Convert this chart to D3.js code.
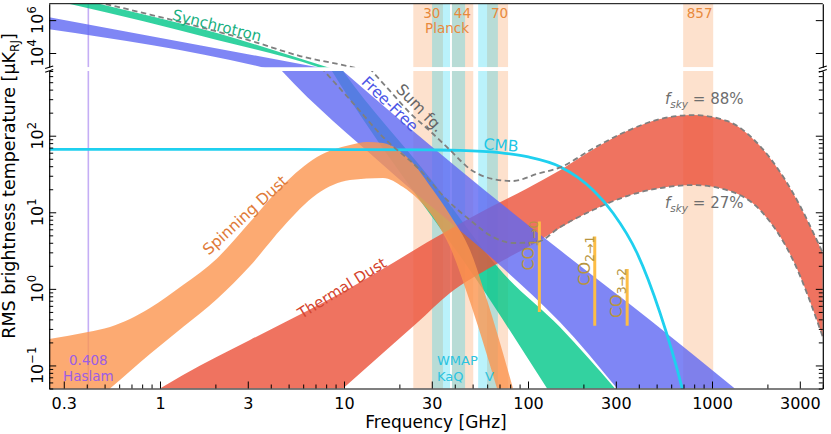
<!DOCTYPE html>
<html>
<head>
<meta charset="utf-8">
<script src="https://cdn.jsdelivr.net/npm/d3@7"></script>
<style>
  body { margin: 0; background: #fff; }
  svg { display: block; font-family: "DejaVu Sans", sans-serif; }
</style>
</head>
<body>
<svg width="831" height="434"></svg>
<script>
// all values: frequency [GHz], RMS brightness temperature [uK_RJ]
const synchrotronHi = [[0.25, 5.5e7], [0.472, 9.5e6], [2.041, 1.64e5], [8.08, 1400], [9.88, 700], [29.3, 28.1],
    [73.1, 1.61], [149, 0.318], [297, 0.05]];
const synchrotronLo = [[0.25, 1.8e7], [0.324, 9.5e6], [2.041, 6.2e4], [7.22, 1400], [8.6, 700], [62.2, 0.716], [127, 0.05]];
const freeFreeHi = [[0.25, 1.48e6], [6.96, 1460], [9.88, 700], [42.7, 35.7], [149, 3.21], [460, 0.392], [1330, 0.05]];
const freeFreeLo = [[0.25, 2.75e5], [3.5, 1460], [4.6, 700], [16.3, 41.4], [73.1, 1.87], [149, 0.369], [305, 0.05]];
const spinningHi = [[0.25, 0.221], [0.406, 0.273], [0.535, 0.318], [0.687, 0.404], [0.882, 0.562], [1.334, 1.12], [2.041, 2.5],
    [3.084, 7.47], [4.661, 22.7], [7.134, 52.7], [10.78, 75.7], [13.34, 82.9], [16.29, 80.4], [22.85, 48.2], [30.46, 19.5],
    [37.68, 9.21], [48.39, 3.21], [59.89, 0.714], [82.9, 0.05]];
const spinningLo = [[0.25, 0.013], [0.535, 0.05], [0.882, 0.141], [1.334, 0.318], [2.041, 0.738], [3.084, 1.99], [4.661, 6.43],
    [7.134, 17.3], [10.78, 26.4], [16.29, 28.1], [20.93, 21.4], [30.46, 8.67], [37.68, 3.52], [46.61, 0.883], [67.85, 0.05]];
const thermalHi = [[1, 0.05], [1.334, 0.075], [3.084, 0.215], [10.78, 1.03], [37.68, 6.0], [62.18, 11.6], [98.76, 20.5],
    [149.3, 35.5], [225.6, 66], [345.2, 115], [521.9, 165], [788.5, 186], [1206, 156], [1824, 73.3], [2755, 17.9], [4000, 2.94]];
const thermalLo = [[9.876, 0.05], [16.29, 0.145], [24.9, 0.358], [37.68, 0.883], [64.54, 1.99], [111.9, 4.09], [149.3, 6.24],
    [225.6, 10.7], [345.2, 16.3], [521.9, 20.7], [788.5, 22.7], [1206, 19.5], [1824, 10.7], [2755, 2.38], [4000, 0.235]];
const sumHi = [[0.455, 1.26e7], [0.882, 2.19e6], [1.65, 3.8e5], [3.084, 5.74e4], [5.768, 6550], [11.05, 1400], [14.2, 700],
    [17.78, 384], [22.85, 198], [29.34, 115], [37.68, 65.0], [48.39, 36.7], [64.54, 27.2], [82.9, 25.6], [111.9, 31.7],
    [149.3, 38.5], [225.6, 68], [345.2, 115], [521.9, 165], [788.5, 186], [1206, 156], [1824, 73.3], [2755, 17.9], [4000, 2.94]];
const sumLo = [[7.5, 780], [11.19, 267], [16.29, 96.2], [25.88, 35.7], [36.29, 14.5], [48.39, 7.92], [64.54, 4.75], [82.9, 3.97],
    [111.9, 4.09], [149.3, 6.4], [225.6, 10.7], [345.2, 16.3], [521.9, 20.7], [788.5, 22.7], [1206, 19.5], [1824, 10.7],
    [2755, 2.38], [4000, 0.235]];
const cmb = [[0.25, 66.4], [3, 66.3], [10, 66.0], [30, 65.2], [42.7, 64.5], [70, 60.3], [98.8, 53.2], [149.3, 39.3],
    [225.6, 19.5], [289.7, 9.8], [391.3, 2.94], [521.9, 0.484], [687, 0.051], [750, 0.021]];

const planckBands = [[23.8, 34.5], [38.6, 50.4], [59.9, 77.9], [697, 1015]];
const planckCentres = [30, 44, 70, 857];
const wmapBands = [[30.1, 37.7], [38.6, 45.5], [53.6, 68.6]];
const haslamFreq = 0.408;

const coFreqs = [115.27, 230.54, 345.8];
const coTop = [7.6, 4.83, 1.82];
const coBottom = [0.5, 0.33, 0.33];
const coSubs = ["1\u21920", "2\u21921", "3\u21922"];

const xTicks = [0.3, 1, 3, 10, 30, 100, 300, 1000, 3000];
const yTicksBottom = [0.1, 1, 10, 100];
const yTicksTop = [1e4, 1e6];

(() => {
    let svg = d3.select("svg");
    const left = 49.2, right = 822.8;
    const topPanel = [3.7, 67.3], botPanel = [71, 388.5];

    let x = d3.scaleLog().domain([0.25, 4000]).range([left, right]);
    let yTop = d3.scaleLog().domain([1350, 1e7]).range([topPanel[1], topPanel[0]]);
    let yBot = d3.scaleLog().domain([0.05, 700]).range([botPanel[1], botPanel[0]]);

    let defs = svg.append("defs");
    defs.append("clipPath").attr("id", "clipTop").append("rect")
        .attr("x", left).attr("y", topPanel[0]).attr("width", right - left).attr("height", topPanel[1] - topPanel[0]);
    defs.append("clipPath").attr("id", "clipBot").append("rect")
        .attr("x", left).attr("y", botPanel[0]).attr("width", right - left).attr("height", botPanel[1] - botPanel[0]);

    let lineFor = y => d3.line().x(d => x(d[0])).y(d => y(d[1])).curve(d3.curveMonotoneX);
    let band = (hi, lo, y) => lineFor(y)(hi) + lineFor(y)(lo.slice().reverse()).replace(/^M/, "L") + "Z";

    const colors = {
        sync: "#00c788", dust: "#eb5038", ff: "#5f68f2", spin: "#fb954f",
        cmb: "#1fd0ef", co: "#fdbd45", sum: "#7f7f7f"
    };

    //draw one panel: shaded frequency bands, components, lines
    function panel(y, range, clip, full) {
        let g = svg.append("g").attr("clip-path", `url(#${clip})`);
        g.selectAll(".planck").data(planckBands).join("rect")
            .attr("x", d => x(d[0])).attr("width", d => x(d[1]) - x(d[0]))
            .attr("y", range[0]).attr("height", range[1] - range[0])
            .attr("fill", "#f9a86f").attr("fill-opacity", 0.35);
        g.selectAll(".wmap").data(wmapBands).join("rect")
            .attr("x", d => x(d[0])).attr("width", d => x(d[1]) - x(d[0]))
            .attr("y", range[0]).attr("height", range[1] - range[0])
            .attr("fill", "#00cff0").attr("fill-opacity", 0.27);
        g.append("line")
            .attr("x1", x(haslamFreq)).attr("x2", x(haslamFreq))
            .attr("y1", range[0]).attr("y2", range[1])
            .attr("stroke", "#c5aef5").attr("stroke-width", 1.6);

        g.append("path").attr("d", band(synchrotronHi, synchrotronLo, y)).attr("fill", colors.sync).attr("fill-opacity", 0.8);
        if (full) g.append("path").attr("d", band(thermalHi, thermalLo, y)).attr("fill", colors.dust).attr("fill-opacity", 0.8);
        g.append("path").attr("d", band(freeFreeHi, freeFreeLo, y)).attr("fill", colors.ff).attr("fill-opacity", 0.8);
        if (full) {
            g.append("path").attr("d", band(spinningHi, spinningLo, y)).attr("fill", colors.spin).attr("fill-opacity", 0.8);
            g.append("path").attr("d", lineFor(y)(cmb)).attr("fill", "none")
                .attr("stroke", colors.cmb).attr("stroke-width", 2.8);
            g.selectAll(".co").data(coFreqs).join("line")
                .attr("x1", d => x(d)).attr("x2", d => x(d))
                .attr("y1", (d, i) => y(coTop[i])).attr("y2", (d, i) => y(coBottom[i]))
                .attr("stroke", colors.co).attr("stroke-width", 3);
            g.append("path").attr("d", lineFor(y)(sumLo)).attr("fill", "none")
                .attr("stroke", colors.sum).attr("stroke-width", 1.8).attr("stroke-dasharray", "5.5,3.5");
        }
        g.append("path").attr("d", lineFor(y)(sumHi)).attr("fill", "none")
            .attr("stroke", colors.sum).attr("stroke-width", 1.8).attr("stroke-dasharray", "5.5,3.5");
    }
    panel(yTop, topPanel, "clipTop", false);
    panel(yBot, botPanel, "clipBot", true);

    //axes
    let axes = svg.append("g").attr("font-size", 16);
    let xMinor = x.ticks().filter(t => !xTicks.some(m => Math.abs(m - t) < 1e-9));
    axes.append("g").attr("transform", `translate(0,${botPanel[1]})`)
        .call(d3.axisBottom(x).tickValues(xTicks).tickSize(-7).tickSizeOuter(0).tickPadding(9).tickFormat(d => String(d)))
        .call(a => a.selectAll("text").attr("font-size", 16).attr("font-family", "DejaVu Sans").attr("fill", "#000"));
    axes.append("g").attr("transform", `translate(0,${botPanel[1]})`)
        .call(d3.axisBottom(x).tickValues(xMinor).tickSize(-4).tickSizeOuter(0).tickFormat(""))
        .call(a => a.select(".domain").remove());

    let yMinor = yBot.ticks().filter(t => !yTicksBottom.some(m => Math.abs(m - t) / m < 1e-6));
    [[left, d3.axisLeft], [right, d3.axisRight]].forEach(([pos, axisFn]) => {
        axes.append("g").attr("transform", `translate(${pos},0)`)
            .call(axisFn(yBot).tickValues(yTicksBottom).tickSize(-7).tickSizeOuter(0).tickFormat(""));
        axes.append("g").attr("transform", `translate(${pos},0)`)
            .call(axisFn(yBot).tickValues(yMinor).tickSize(-4).tickSizeOuter(0).tickFormat(""))
            .call(a => a.select(".domain").remove());
        axes.append("g").attr("transform", `translate(${pos},0)`)
            .call(axisFn(yTop).tickValues(yTicksTop).tickSize(-7).tickSizeOuter(0).tickFormat(""));
        //break marks
        [0, 3.6].forEach(off => axes.append("line")
            .attr("x1", pos - 4).attr("x2", pos + 4)
            .attr("y1", 68.6 + off).attr("y2", 66 + off)
            .attr("stroke", "#000").attr("stroke-width", 1.1));
    });
    axes.append("line").attr("x1", left).attr("x2", right).attr("y1", topPanel[0]).attr("y2", topPanel[0])
        .attr("stroke", "#000");
    axes.selectAll(".domain").attr("stroke", "#000").attr("stroke-width", 1.2);
    axes.selectAll(".tick line").attr("stroke", "#000").attr("stroke-width", 1);

    //rotated power-of-ten labels
    let powLabel = (y, v) => {
        let t = axes.append("text")
            .attr("transform", `translate(43,${y(v)}) rotate(-90)`)
            .attr("text-anchor", "middle").attr("font-size", 16);
        t.append("tspan").text("10");
        t.append("tspan").attr("font-size", 11.5).attr("dy", -7)
            .text(String(Math.round(Math.log10(v))).replace("-", "\u2212"));
    };
    yTicksBottom.forEach(v => powLabel(yBot, v));
    yTicksTop.forEach(v => powLabel(yTop, v));

    axes.append("text").attr("x", (left + right) / 2).attr("y", 428)
        .attr("text-anchor", "middle").attr("font-size", 17).text("Frequency [GHz]");
    let yl = axes.append("text").attr("transform", "translate(15,186) rotate(-90)")
        .attr("text-anchor", "middle").attr("font-size", 17.5);
    yl.append("tspan").text("RMS brightness temperature [\u03bcK");
    yl.append("tspan").attr("font-size", 12).attr("dy", 4).text("RJ");
    yl.append("tspan").attr("dy", -4).text("]");

    //annotations
    let notes = svg.append("g");
    let rotText = (cx, cy, angle, size, color, txt) => notes.append("text")
        .attr("transform", `translate(${cx},${cy}) rotate(${angle})`)
        .attr("text-anchor", "middle").attr("dy", "0.35em")
        .attr("font-size", size).attr("fill", color).text(txt);
    rotText(217, 25.5, 14, 15, "#19b07f", "Synchrotron");
    rotText(390, 104, 44, 15.5, "#4b55e6", "Free-Free");
    rotText(420, 108, 46, 15.5, "#666666", "Sum fg.");
    rotText(501, 145, 4, 15.5, "#1cc6e6", "CMB");
    rotText(245, 215, -42.6, 15.5, "#e07b39", "Spinning Dust");
    rotText(342, 288, -31.7, 15, "#d4442e", "Thermal Dust");

    planckCentres.forEach(f => notes.append("text").attr("x", x(f)).attr("y", 17.5)
        .attr("text-anchor", "middle").attr("font-size", 13.5).attr("fill", "#e8893c").text(f));
    notes.append("text").attr("x", 425).attr("y", 33).attr("font-size", 13.5).attr("fill", "#e8893c").text("Planck");

    notes.append("text").attr("x", 437).attr("y", 365).attr("font-size", 13).attr("fill", "#2bc3e0").text("WMAP");
    notes.append("text").attr("x", 437).attr("y", 380.5).attr("font-size", 13).attr("fill", "#2bc3e0").text("KaQ");
    notes.append("text").attr("x", 485).attr("y", 380.5).attr("font-size", 13).attr("fill", "#2bc3e0").text("V");

    notes.append("text").attr("x", x(haslamFreq)).attr("y", 365).attr("text-anchor", "middle")
        .attr("font-size", 13.5).attr("fill", "#9b5de5").text(haslamFreq);
    notes.append("text").attr("x", x(haslamFreq)).attr("y", 380.5).attr("text-anchor", "middle")
        .attr("font-size", 13.5).attr("fill", "#9b5de5").text("Haslam");

    coFreqs.forEach((f, i) => {
        let t = notes.append("text")
            .attr("transform", `translate(${x(f) - 5},${yBot(coTop[i]) - 1}) rotate(-90)`)
            .attr("text-anchor", "end").attr("font-size", 16).attr("fill", "#b8953f");
        t.append("tspan").text("CO");
        t.append("tspan").attr("font-size", 12.5).attr("dy", 4).text(coSubs[i]);
    });

    [["88%", 104], ["27%", 208]].forEach(([pct, yy]) => {
        let t = notes.append("text").attr("x", 665).attr("y", yy).attr("font-size", 15).attr("fill", "#6e6e6e");
        t.append("tspan").attr("font-style", "italic").text("f");
        t.append("tspan").attr("font-style", "italic").attr("font-size", 10.5).attr("dy", 3.5).text("sky");
        t.append("tspan").attr("dy", -3.5).text(" = " + pct);
    });
})();
</script>
</body>
</html>
